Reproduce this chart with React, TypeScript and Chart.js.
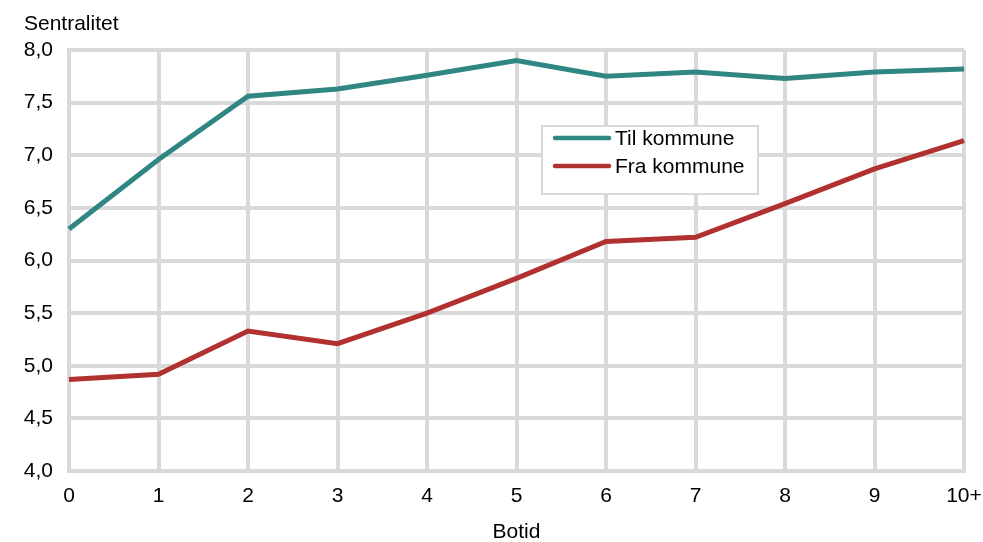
import React, { useEffect, useRef } from "react";
import { Chart, registerables } from "chart.js";

Chart.register(...registerables);

const categories = ["0", "1", "2", "3", "4", "5", "6", "7", "8", "9", "10+"];
const tilKommune = [6.3, 6.96, 7.56, 7.63, 7.76, 7.9, 7.75, 7.79, 7.73, 7.79, 7.82];
const fraKommune = [4.87, 4.92, 5.33, 5.21, 5.5, 5.83, 6.18, 6.22, 6.54, 6.87, 7.14];
const seriesLabels = ["Til kommune", "Fra kommune"];
const yTitle = "Sentralitet";
const xTitle = "Botid";

const TEAL = "#2f8682";
const RED = "#b13131";
const GRID = "#d9d9d9";
const FONT = "'Liberation Sans', Arial, sans-serif";
const FS = 21;

const overlayPlugin = {
  id: "overlay",
  afterDraw(chart: any) {
    const { ctx, chartArea } = chart;
    ctx.save();
    ctx.fillStyle = "#000";
    ctx.font = `${FS}px ${FONT}`;
    ctx.textBaseline = "middle";
    ctx.textAlign = "left";
    ctx.fillText(yTitle, 24, 24);
    ctx.textAlign = "center";
    ctx.fillText(xTitle, (chartArea.left + chartArea.right) / 2, 532);

    // legend box inside plot
    const w = chartArea.right - chartArea.left;
    const bx = chartArea.left + (542 - 69) / 895 * w;
    const by = chartArea.top + 76;
    const bw = 216;
    const bh = 68;
    ctx.fillStyle = "#fff";
    ctx.fillRect(bx, by, bw, bh);
    ctx.strokeStyle = GRID;
    ctx.lineWidth = 2;
    ctx.strokeRect(bx, by, bw, bh);
    chart.data.datasets.forEach((ds: any, i: number) => {
      const cy = by + 12 + i * 28;
      ctx.strokeStyle = ds.borderColor;
      ctx.lineWidth = 4.5;
      ctx.lineCap = "round";
      ctx.beginPath();
      ctx.moveTo(bx + 13, cy);
      ctx.lineTo(bx + 67, cy);
      ctx.stroke();
      ctx.fillStyle = "#000";
      ctx.textAlign = "left";
      ctx.fillText(ds.label, bx + 73, cy + 1);
    });
    ctx.restore();
  },
};

export default function App() {
  const ref = useRef<HTMLCanvasElement>(null);
  useEffect(() => {
    document.body.style.margin = "0";
    const chart = new Chart(ref.current!, {
      type: "line",
      data: {
        labels: categories,
        datasets: [
          {
            label: seriesLabels[0],
            data: tilKommune,
            borderColor: TEAL,
            backgroundColor: TEAL,
            borderWidth: 5,
            pointRadius: 0,
            tension: 0,
          },
          {
            label: seriesLabels[1],
            data: fraKommune,
            borderColor: RED,
            backgroundColor: RED,
            borderWidth: 5,
            pointRadius: 0,
            tension: 0,
          },
        ],
      },
      options: {
        animation: false,
        responsive: false,
        layout: { padding: { top: 50, right: 19, left: 0, bottom: 0 } },
        plugins: { legend: { display: false }, tooltip: { enabled: false } },
        scales: {
          x: {
            offset: false,
            grid: { color: GRID, lineWidth: 4, drawTicks: false },
            border: { display: true, color: GRID, width: 4 },
            ticks: {
              color: "#000",
              font: { family: FONT, size: FS },
              padding: 13,
              maxRotation: 0,
              autoSkip: false,
            },
            afterFit(scale: any) {
              scale.height = 71;
              scale.paddingLeft = 0;
              scale.paddingRight = 0;
            },
          },
          y: {
            min: 4,
            max: 8,
            grid: { color: GRID, lineWidth: 4, drawTicks: false },
            border: { display: true, color: GRID, width: 4 },
            ticks: {
              stepSize: 0.5,
              color: "#000",
              font: { family: FONT, size: FS },
              padding: 16,
              callback: (v: any) => Number(v).toFixed(1).replace(".", ","),
            },
            afterFit(scale: any) {
              scale.width = 69;
              scale.paddingTop = 0;
              scale.paddingBottom = 0;
            },
          },
        },
      },
      plugins: [overlayPlugin],
    });
    return () => chart.destroy();
  }, []);
  return <canvas ref={ref} width={983} height={542} style={{ display: "block" }} />;
}
